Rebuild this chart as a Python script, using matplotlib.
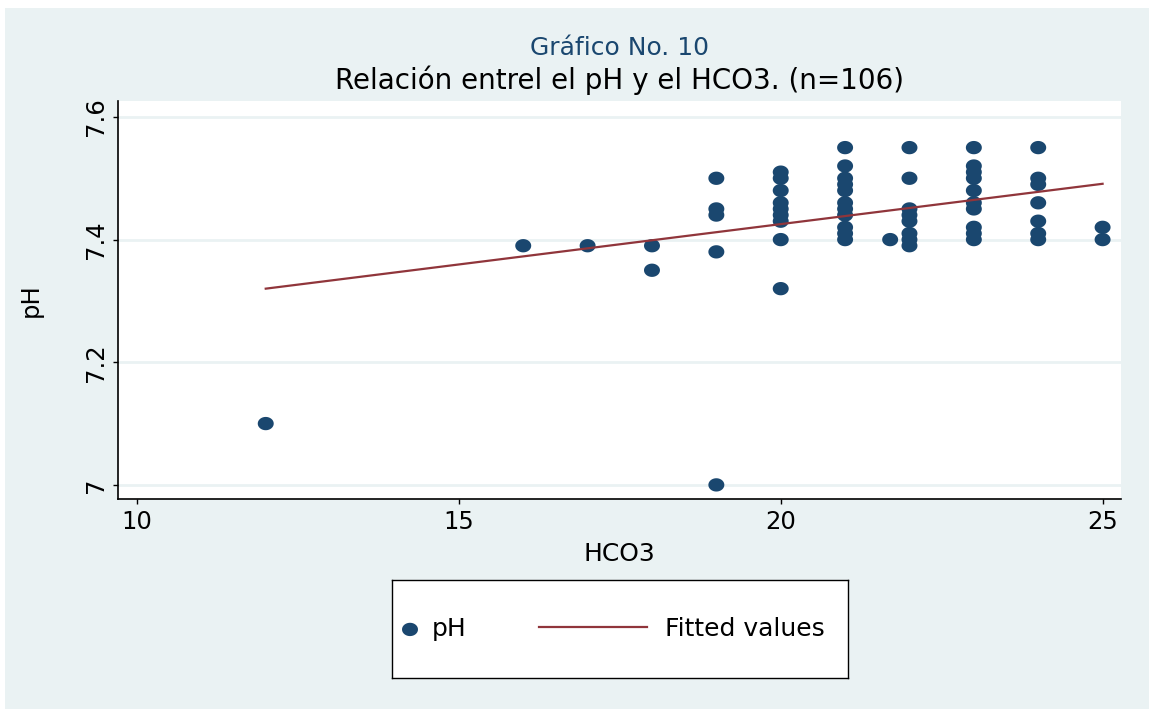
import numpy as np
import matplotlib
matplotlib.use("Agg")
import matplotlib.pyplot as plt
from matplotlib.path import Path
from matplotlib.patches import Rectangle
from matplotlib.lines import Line2D
from matplotlib.legend_handler import HandlerBase

plt.rcParams['font.family'] = ['DejaVu Sans']

# ---- data ----
hco3 = [12, 16, 17, 18, 18,
        19, 19, 19, 19, 19,
        20, 20, 20, 20, 20, 20, 20, 20, 20,
        21, 21, 21, 21, 21, 21, 21, 21, 21, 21, 21,
        21.7,
        22, 22, 22, 22, 22, 22, 22, 22,
        23, 23, 23, 23, 23, 23, 23, 23, 23, 23,
        24, 24, 24, 24, 24, 24, 24,
        25, 25]
ph = [7.10, 7.39, 7.39, 7.39, 7.35,
      7.50, 7.45, 7.44, 7.38, 7.00,
      7.51, 7.50, 7.48, 7.46, 7.45, 7.44, 7.43, 7.40, 7.32,
      7.55, 7.52, 7.50, 7.49, 7.48, 7.46, 7.45, 7.44, 7.42, 7.41, 7.40,
      7.40,
      7.55, 7.50, 7.45, 7.44, 7.43, 7.41, 7.40, 7.39,
      7.55, 7.52, 7.51, 7.50, 7.48, 7.46, 7.45, 7.42, 7.41, 7.40,
      7.55, 7.50, 7.49, 7.46, 7.43, 7.41, 7.40,
      7.42, 7.40]
fit_x = [12, 25]
fit_y = [7.320, 7.491]

x_ticks = [10, 15, 20, 25]
y_ticks = [7.0, 7.2, 7.4, 7.6]
y_ticklabels = ["7", "7.2", "7.4", "7.6"]

suptitle = "Gráfico No. 10"
title = "Relación entrel el pH y el HCO3. (n=106)"

NAVY = "#1a476f"
MAROON = "#90353b"
BG = "#eaf2f3"

W, H = 1149, 709
fig = plt.figure(figsize=(W / 100, H / 100), dpi=100)
fig.patch.set_facecolor("white")
fig.patches.append(Rectangle((5 / W, 0), 1 - 5 / W, (H - 8) / H,
                             transform=fig.transFigure, facecolor=BG,
                             edgecolor="none", zorder=-10))

AX_L, AX_R, AX_T, AX_B = 118, 1121, 101, 499
ax = fig.add_axes([AX_L / W, 1 - AX_B / H, (AX_R - AX_L) / W, (AX_B - AX_T) / H])
ax.set_facecolor("white")

# slightly wide elliptical marker (as in the reference)
t = np.linspace(0, 2 * np.pi, 60)
ell = Path(np.column_stack([1.2 * np.cos(t), np.sin(t)]), closed=True)

sc = ax.scatter(hco3, ph, marker=ell, s=11.5 ** 2, color=NAVY,
                edgecolors="none", zorder=3, label="pH")
ln, = ax.plot(fit_x, fit_y, color=MAROON, lw=1.6, zorder=4,
              label="Fitted values")

ax.set_xlim(9.705, 25.286)
ax.set_ylim(6.977, 7.626)
ax.set_xticks(x_ticks)
ax.set_xticklabels([str(v) for v in x_ticks])
ax.set_yticks(y_ticks)
ax.set_yticklabels(y_ticklabels, rotation=90, va="center")
ax.yaxis.grid(True, color=BG, lw=2.0, zorder=0)
ax.set_axisbelow(True)
for s in ("top", "right"):
    ax.spines[s].set_visible(False)
for s in ("left", "bottom"):
    ax.spines[s].set_linewidth(1.2)
    ax.spines[s].set_color("black")
ax.tick_params(axis="both", direction="out", length=3.5, width=1,
               labelsize=17.5, colors="black")
ax.tick_params(axis="x", pad=4.7)
ax.tick_params(axis="y", pad=3.8)

ax.set_xlabel("HCO3", fontsize=18)
ax.xaxis.set_label_coords(0.5, (AX_B - 561) / (AX_B - AX_T))
ax.xaxis.label.set_va("baseline")
ax.set_ylabel("pH", fontsize=17.5)
ax.yaxis.set_label_coords((31 - AX_L) / (AX_R - AX_L), 0.5)
ax.yaxis.label.set_va("center")

cx = (AX_L + AX_R) / 2 / W
fig.text(cx, 1 - 55 / H, suptitle, ha="center", va="baseline",
         fontsize=18, color=NAVY)
fig.text(cx, 1 - 89.3 / H, title, ha="center", va="baseline",
         fontsize=20, color="black")


class LongLine(HandlerBase):
    def __init__(self, ext, gap, **kw):
        super().__init__(**kw)
        self.ext = ext
        self.gap = gap

    def create_artists(self, legend, orig_handle, xdescent, ydescent,
                       width, height, fontsize, trans):
        y = (height - ydescent) / 2.0
        x1 = -xdescent + width - self.gap
        x0 = -xdescent + width - self.ext
        line = Line2D([x0, x1], [y, y], color=orig_handle.get_color(),
                      lw=orig_handle.get_linewidth())
        line.set_transform(trans)
        return [line]


lax = fig.add_axes([392 / W, 1 - 678 / H, (848 - 392) / W, (678 - 580) / H])
lax.set_xticks([])
lax.set_yticks([])
lax.set_facecolor("white")
for s in lax.spines.values():
    s.set_color("black")
    s.set_linewidth(1.0)
leg = lax.legend([sc, ln], ["pH", "Fitted values"], loc="center left",
                 bbox_to_anchor=(0, 0.5), frameon=False, ncol=2,
                 borderaxespad=0, borderpad=0.22, handlelength=1.0,
                 handletextpad=0.36, columnspacing=6.6, fontsize=18,
                 handler_map={ln: LongLine(ext=117.3 * 0.72, gap=9 * 0.72)},
                 scatterpoints=1)

fig.savefig("out.png", dpi=100, facecolor=fig.get_facecolor())
